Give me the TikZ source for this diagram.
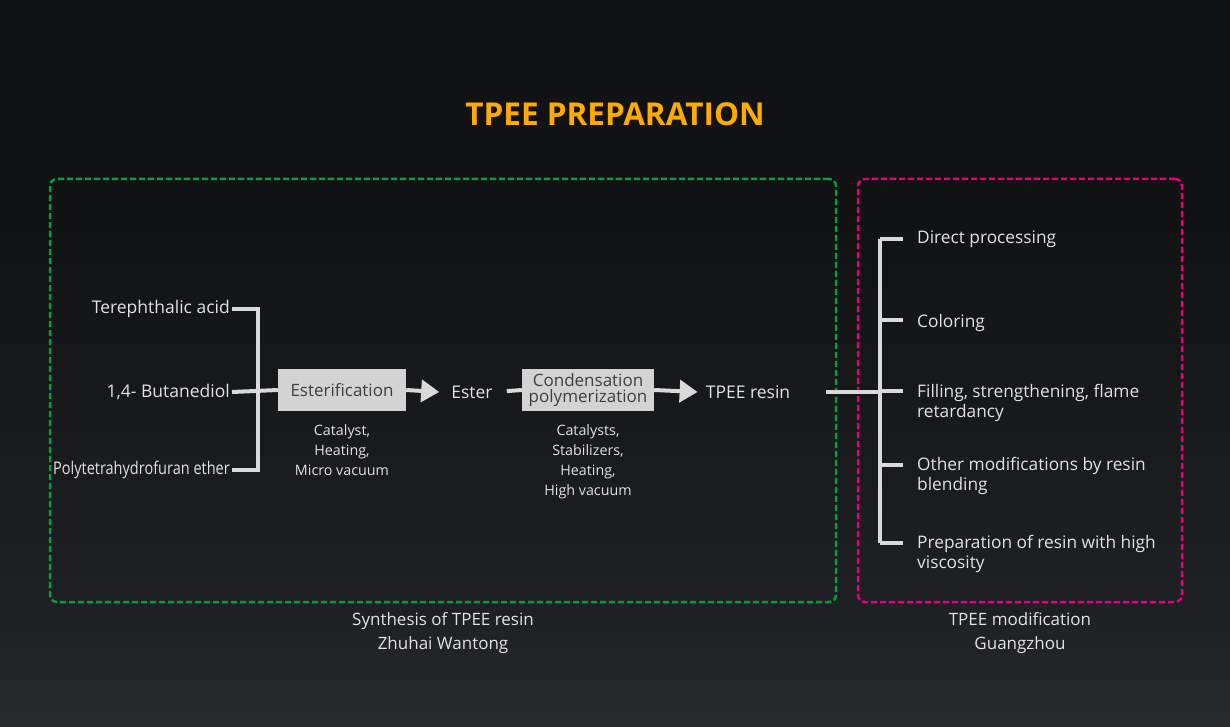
\documentclass[tikz,border=0pt]{standalone}
\usepackage{fontspec}
\usepackage{graphicx}
\setmainfont{Open Sans}
\usetikzlibrary{arrows.meta,positioning,calc}
\definecolor{bgtop}{HTML}{111214}
\definecolor{bgmid}{HTML}{1F2023}
\definecolor{bgbottom}{HTML}{46484C}
\definecolor{titleorange}{HTML}{FFAA00}
\definecolor{textgray}{HTML}{E2E2E2}
\definecolor{linegray}{HTML}{D9D9D9}
\definecolor{boxgray}{HTML}{D3D3D3}
\definecolor{boxtext}{HTML}{3F3F3F}
\definecolor{synthgreen}{HTML}{00A040}
\definecolor{modpink}{HTML}{E5007A}
\pgfdeclareverticalshading{bgshade}{100bp}{color(0bp)=(bgbottom); color(33bp)=(bgmid); color(60bp)=(bgtop); color(100bp)=(bgtop)}
\tikzstyle{process} = [rectangle, fill=boxgray, text=boxtext, minimum width=128pt, minimum height=42pt, inner sep=2pt, align=center, font=\fontsize{17}{16}\selectfont]
\tikzstyle{label} = [text=textgray, inner sep=2pt, font=\fontsize{17.5}{20}\selectfont]
\tikzstyle{item} = [text=textgray, inner sep=0pt, align=left, font=\fontsize{17.3}{20}\selectfont]
\tikzstyle{note} = [text=textgray, inner sep=0pt, align=center, font=\fontsize{14.3}{20}\selectfont]
\tikzstyle{caption} = [text=textgray, inner sep=0pt, align=center, font=\fontsize{17}{24}\selectfont]
\tikzstyle{groupbox} = [rectangle, rounded corners=7pt, line width=2.5pt, dash pattern=on 6pt off 3pt]
\tikzstyle{link} = [draw=linegray, line width=4pt]
\tikzstyle{arrow} = [link, -{Triangle[width=22pt,length=18pt]}]

\begin{document}
\begin{tikzpicture}[x=1pt, y=-1pt]
		
		\shade [shading=bgshade] (0,0) rectangle (1230,727);
		\useasboundingbox (0,0) rectangle (1230,727);
		
		\node (title) [text=titleorange, font=\fontsize{31.5}{32}\selectfont\bfseries] at (615,114) {TPEE PREPARATION};
		
		% boxes
		\node (synthesis_box) [groupbox, draw=synthgreen, minimum width=786pt, minimum height=423pt] at (443,390.5) {};
		\node (modification_box) [groupbox, draw=modpink, minimum width=324pt, minimum height=423pt] at (1020,390.5) {};
		\node (synthesis_caption) [caption, below=9pt of synthesis_box] {Synthesis of TPEE resin\\Zhuhai Wantong};
		\node (modification_caption) [caption, below=9pt of modification_box] {TPEE modification\\Guangzhou};
		
		% raw materials
		\node (terephthalic) [label, anchor=east] at (232,309) {Terephthalic acid};
		\node (butanediol) [label, anchor=east] at (232,392) {1,4- Butanediol};
		\node (polytetra) [label, anchor=east] at (232,470) {\scalebox{0.83}[1]{Polytetrahydrofuran ether}};
		\coordinate (joint) at (258,392);
		
		% process chain
		\node (esterification) [process] at (342,390) {Esterification};
		\node (ester) [label] at (472,392) {Ester};
		\node (condensation) [process, minimum width=132pt] at (588,390) {Condensation\\polymerization};
		\node (tpee_resin) [label] at (748,392) {TPEE resin};
		
		\node (ester_note) [note, below=13pt of esterification] {Catalyst,\\Heating,\\Micro vacuum};
		\node (condensation_note) [note, below=13pt of condensation] {Catalysts,\\Stabilizers,\\Heating,\\High vacuum};
		
		% modifications
		\node (direct) [item, anchor=north west] at (917,231) {Direct processing};
		\node (coloring) [item, anchor=north west] at (917,314) {Coloring};
		\node (filling) [item, anchor=north west] at (917,384) {Filling, strengthening, flame\\retardancy};
		\node (blending) [item, anchor=north west] at (917,457) {Other modifications by resin\\blending};
		\node (viscosity) [item, anchor=north west] at (917,535) {Preparation of resin with high\\viscosity};
		
		\coordinate (st1) at ($(direct.north west)+(-37pt,-8pt)$);
		\coordinate (st2) at ($(coloring.north west)+(-37pt,-6pt)$);
		\coordinate (st3) at ($(filling.north west)+(-37pt,-7pt)$);
		\coordinate (st4) at ($(blending.north west)+(-37pt,-8pt)$);
		\coordinate (st5) at ($(viscosity.north west)+(-37pt,-8pt)$);
		
		% connectors
		\draw [link] (terephthalic.east) -| (joint) |- (polytetra.east);
		\draw [link] (butanediol.east) -- (esterification.west);
		\draw [arrow] (esterification.east) -- ([xshift=-10pt]ester.west);
		\draw [link, shorten <=12pt] (ester.east) -- (condensation.west);
		\draw [arrow] (condensation.east) -- ([xshift=-6pt]tpee_resin.west);
		\draw [link, shorten <=34pt] (tpee_resin.east) -- (tpee_resin.east -| st3);
		
		\draw [link] (st1) -- (st5);
		\draw [link] (st1) -- ++(23pt,0);
		\draw [link] (st2) -- ++(23pt,0);
		\draw [link] (st3) -- ++(23pt,0);
		\draw [link] (st4) -- ++(23pt,0);
		\draw [link] (st5) -- ++(23pt,0);
		
\end{tikzpicture}
\end{document}
